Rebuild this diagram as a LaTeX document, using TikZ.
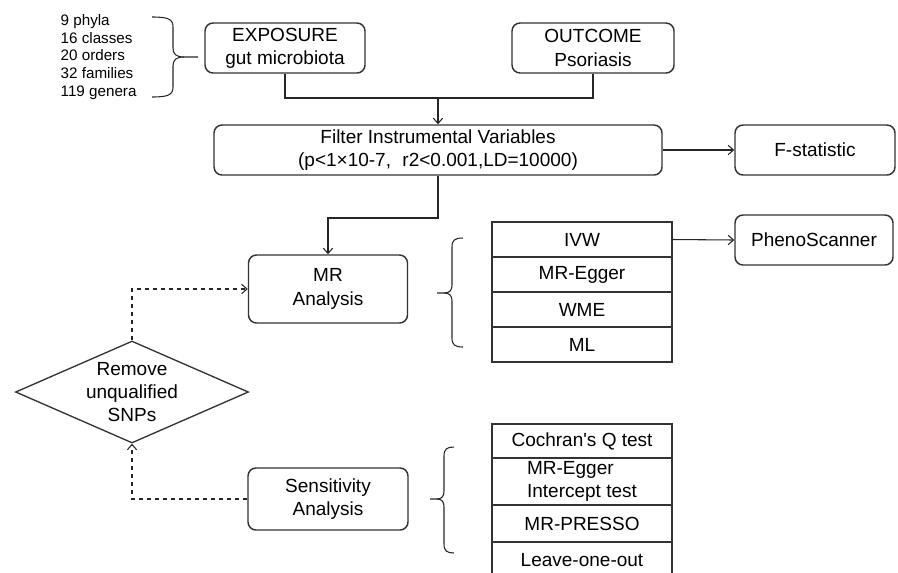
\documentclass[tikz,border=0pt]{standalone}
\usepackage{fontspec}
\setmainfont{Liberation Sans}
\usetikzlibrary{positioning,shapes.geometric,arrows.meta}
\begin{document}
\begin{tikzpicture}[x=0.75pt,y=-0.75pt,
  font=\fontsize{14.25}{17.5}\selectfont,
  >={Straight Barb[length=4pt,width=7pt]},
  box/.style={rectangle, rounded corners=6pt, draw=black!80, line width=1.1pt, align=center, inner sep=0pt, minimum height=37.5pt},
  cell/.style={rectangle, draw=black!80, line width=1pt, minimum width=135pt, minimum height=26.25pt, inner sep=0pt, outer sep=0pt},
  decision/.style={diamond, draw=black!80, line width=1pt, minimum width=174.75pt, minimum height=76.5pt, inner sep=0pt},
  link/.style={draw=black!85, line width=0.8pt},
  loop/.style={link, dashed, dash pattern=on 3.5pt off 2.5pt}]
\useasboundingbox (0,0) rectangle (898,572);
\clip (0,0) rectangle (898,572);

\node [anchor=west, align=left, font=\fontsize{11.4}{13.2}\selectfont] (taxa) at (56,57) {9 phyla\\16 classes\\20 orders\\32 families\\119 genera};
\draw [link] (152,17) .. controls (168,17) and (173,19) .. (173,27) -- (173,48) .. controls (173,54) and (176,57) .. (184,57) -- (198,57);
\draw [link] (152,97) .. controls (168,97) and (173,95) .. (173,87) -- (173,66) .. controls (173,60) and (176,57) .. (184,57);

\node [box, minimum width=120pt] (exposure) at (285,48) {EXPOSURE\\gut microbiota};
\node [box, minimum width=121.5pt] (outcome) at (593,48) {OUTCOME\\Psoriasis};
\node [box, minimum width=336pt] (filter) at (438,150) {Filter Instrumental Variables\\(p<1×10-7,\hspace{0.6em}r2<0.001,LD=10000)};
\node [box, minimum width=120pt] (fstat) at (815,150) {F-statistic};
\node [box, minimum width=119.25pt, minimum height=51pt] (mr) at (328,289) {MR\\Analysis};
\node [box, minimum width=120pt, minimum height=46.5pt] (sens) at (328,499) {Sensitivity\\Analysis};
\node [box, minimum width=118.5pt] (pheno) at (814,240) {PhenoScanner};
\node [decision] (snp) at (132,392) {};
\node [align=center] (snptext) at (snp) {Remove\\unqualified\\SNPs};

\node [cell, anchor=north west] (ivw) at (492,222) {IVW};
\node [cell, below=0pt of ivw] (egger) {MR-Egger};
\node [cell, below=0pt of egger] (wme) {WME};
\node [cell, below=0pt of wme] (ml) {ML};

\node [cell, anchor=north west, minimum height=25.5pt] (cochran) at (492,424) {Cochran\textquotesingle s Q test};
\node [cell, below=0pt of cochran, minimum height=35.25pt, align=left] (intercept) {MR-Egger\\Intercept test};
\node [cell, below=0pt of intercept, minimum height=27.75pt] (presso) {MR-PRESSO};
\node [cell, below=0pt of presso, minimum height=27pt] (loo) {Leave-one-out};

\draw [link] (463,238) .. controls (455,238) and (452,240) .. (452,247) -- (452,285) .. controls (452,290) and (450,293) .. (444,293) -- (437,293);
\draw [link] (463,347) .. controls (455,347) and (452,345) .. (452,338) -- (452,301) .. controls (452,296) and (450,293) .. (444,293);
\draw [link] (454,447) .. controls (447,447) and (444,449) .. (444,456) -- (444,491) .. controls (444,496) and (442,499) .. (437,499) -- (430,499);
\draw [link] (454,553) .. controls (447,553) and (444,551) .. (444,544) -- (444,507) .. controls (444,502) and (442,499) .. (437,499);

\coordinate (join) at (438,98);
\coordinate (split) at (438,218);
\draw [link] (exposure.south) |- (join) -| (outcome.south);
\draw [link,->] (join) -- (filter.north);
\draw [link,->] (filter) -- (fstat);
\draw [link,->] (filter.south) -- (split) -| (mr.north);
\draw [link,->] (ivw.east) -- (pheno.west);
\draw [loop,->] (snp.north) |- (mr.west);
\draw [loop,->] (sens.west) -| (snp.south);
\end{tikzpicture}
\end{document}
